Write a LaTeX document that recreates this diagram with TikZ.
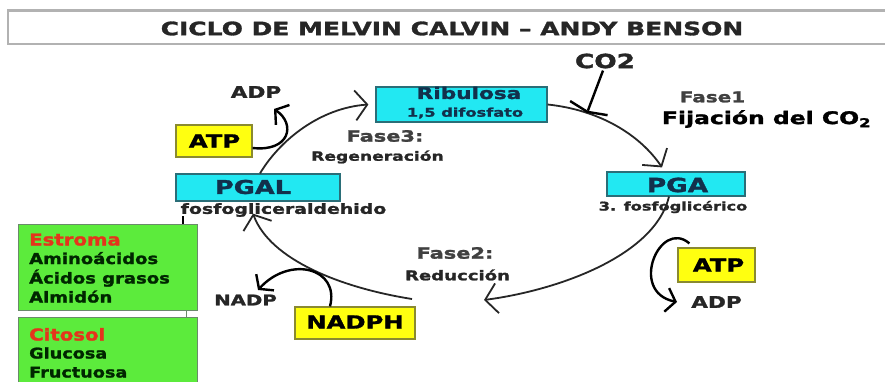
\documentclass[tikz,border=0pt]{standalone}
\usepackage{fontspec}
\setmainfont{DejaVu Sans}[FakeStretch=1.35, BoldFeatures={FakeBold=1.6}]
\newfontfamily\greenfont{DejaVu Sans}[FakeStretch=1.2, BoldFeatures={FakeBold=1.6}]
\usetikzlibrary{arrows.meta,calc}
\definecolor{cyanc}{HTML}{22E8F2}
\definecolor{cyanb}{HTML}{2A6E78}
\definecolor{yel}{HTML}{FFFF10}
\definecolor{yelb}{HTML}{8A8A30}
\definecolor{grn}{HTML}{5CEB3C}
\definecolor{grnb}{HTML}{6A8A6A}
\definecolor{redt}{HTML}{E5341C}
\definecolor{navy}{HTML}{12304C}
\definecolor{ink}{HTML}{262626}
\newcommand\fsz[1]{\fontsize{#1}{#1}\selectfont\bfseries}
\newcommand\gsz[1]{\greenfont\fontsize{#1}{#1}\selectfont\bfseries}
\begin{document}
\begin{tikzpicture}[x=1pt,y=-1pt,
  cbox/.style={fill=cyanc,draw=cyanb,line width=1.2pt,inner sep=0pt,text=navy},
  ybox/.style={fill=yel,draw=yelb,line width=1.2pt,inner sep=0pt,text=black},
  gbox/.style={fill=grn,draw=grnb,line width=1pt,inner sep=0pt},
  lbl/.style={inner sep=0pt,text=ink},
  gtxt/.style={inner sep=0pt,anchor=base west,text=black!85!green},
  cyc/.style={draw=ink,line width=1.8pt,-{Straight Barb[length=12pt,width=30pt]}},
  curl/.style={draw=black,line width=2.4pt,-{Straight Barb[length=9pt,width=24pt]}},
]
\clip (0,0) rectangle (885,382);
\fill[white] (0,0) rectangle (885,382);

% title bar
\draw[gray!60, line width=2.5pt] (886,10.5) -- (8,10.5) -- (8,44) -- (886,44);
\node[lbl, font=\fsz{18.5}] (title) at (452,28.5) {CICLO DE MELVIN CALVIN – ANDY BENSON};

% boxes
\node[cbox, minimum width=171pt, minimum height=35pt] (rib) at (461.5,104.5) {};
\node[cbox, minimum width=138pt, minimum height=24pt] (pga) at (676,184) {};
\node[cbox, minimum width=164pt, minimum height=27pt] (pgal) at (258,187.5) {};
\node[ybox, minimum width=76pt, minimum height=32pt] (atpL) at (214,141) {};
\node[ybox, minimum width=77pt, minimum height=34pt] (atpR) at (716.5,265) {};
\node[ybox, minimum width=120pt, minimum height=32pt] (nadph) at (355,323) {};
\node[gbox, minimum width=179pt, minimum height=86pt] (est) at (107.5,267) {};
\node[gbox, minimum width=179pt, minimum height=78pt] (cit) at (107.5,356) {};

% free ends
\coordinate (fixpt) at (587,113);
\coordinate (redR) at (484,300);
\coordinate (redL) at (412,299);
\coordinate (adpLtip) at (274,109);
\coordinate (adpRtip) at (677,302);
\coordinate (nadpTip) at (258,290);
\coordinate (tick) at (183,216);

% cycle
\draw[cyc] (rib.east) .. controls (600,110) and (640,135) .. ([xshift=-14pt,yshift=4pt]pga.north);
\draw[cyc] ([xshift=-7pt]pga.south) .. controls (655,255) and (560,290) .. (redR);
\draw[cyc] (redL) .. controls (342,288) and (270,260) .. ([xshift=-5pt,yshift=-12pt]pgal.south);
\draw[cyc] ([xshift=2pt]pgal.north) .. controls (280,140) and (320,108) .. ([xshift=-7pt]rib.west);

% side arrows
\node[lbl, font=\fsz{19.5}] (co2) at (605,61) {CO2};
\draw[draw=black,line width=2.4pt,-{Straight Barb[length=4pt,width=40pt]}] ([xshift=-2pt,yshift=-2pt]co2.south) -- (fixpt);
\draw[curl] ([yshift=-7pt]atpL.east) .. controls (290,152) and (296,124) .. (adpLtip);
\draw[curl] ([xshift=12pt,yshift=4pt]atpR.north west) .. controls (660,218) and (628,292) .. (adpRtip);
\draw[curl] ([xshift=-25pt]nadph.north) .. controls (340,268) and (290,255) .. (nadpTip);

% green connectors
\draw[grnb, line width=1pt] ([xshift=-11pt]est.south east) -- ([xshift=-11pt]cit.north east);
\draw[black, line width=1.5pt] (tick) -- (tick |- est.north);

% labels
\node[lbl,text=navy,font=\fsz{16}] (ribt) at (469,93) {Ribulosa};
\node[lbl,text=navy,font=\fsz{12}] (ribs) at (465,113) {1,5 difosfato};
\node[lbl,text=navy,font=\fsz{19.5}] (pgat) at (677.5,185) {PGA};
\node[lbl,font=\fsz{12}] (pgas) at (673,207) {3. fosfoglicérico};
\node[lbl,text=navy,font=\fsz{19}] (pgalt) at (253,187) {PGAL};
\node[lbl,font=\fsz{14}] (pgals) at (283.5,210) {fosfogliceraldehido};
\node[lbl,text=black,font=\fsz{18}] (atpLt) at (214.5,141) {ATP};
\node[lbl,font=\fsz{16}] (adpL) at (256,92) {ADP};
\node[lbl,text=black,font=\fsz{18}] (atpRt) at (718.5,265) {ATP};
\node[lbl,font=\fsz{16}] (adpR) at (716.5,302) {ADP};
\node[lbl,text=black,font=\fsz{18}] (nadpht) at (355,322) {NADPH};
\node[lbl,font=\fsz{14.6}] (nadp) at (245.5,300) {NADP};
\node[lbl,text=black!75,font=\fsz{14.8}] (f1) at (712.5,97) {Fase1};
\node[lbl,text=black,font=\fsz{17.4}] (fij) at (766.5,119) {Fijación del CO\textsubscript{2}};
\node[lbl,text=black!75,font=\fsz{15.5}] (f3) at (385,136) {Fase3:};
\node[lbl,font=\fsz{12.7}] (reg) at (377.5,157) {Regeneración};
\node[lbl,text=black!75,font=\fsz{15.5}] (f2) at (455,253) {Fase2:};
\node[lbl,font=\fsz{13.4}] (red) at (457.5,275) {Reducción};

% green box texts
\node[gtxt,text=redt,font=\gsz{16.4}] (e0) at (29,245.5) {Estroma};
\node[gtxt,font=\gsz{15}] (e1) at (29,264) {Aminoácidos};
\node[gtxt,font=\gsz{15}] (e2) at (29,283.5) {Ácidos grasos};
\node[gtxt,font=\gsz{15}] (e3) at (29,302.5) {Almidón};
\node[gtxt,text=redt,font=\gsz{16.4}] (c0) at (29,340.5) {Citosol};
\node[gtxt,font=\gsz{14.7}] (c1) at (29,358.5) {Glucosa};
\node[gtxt,font=\gsz{14.7}] (c2) at (29,377.5) {Fructuosa};
\end{tikzpicture}
\end{document}
